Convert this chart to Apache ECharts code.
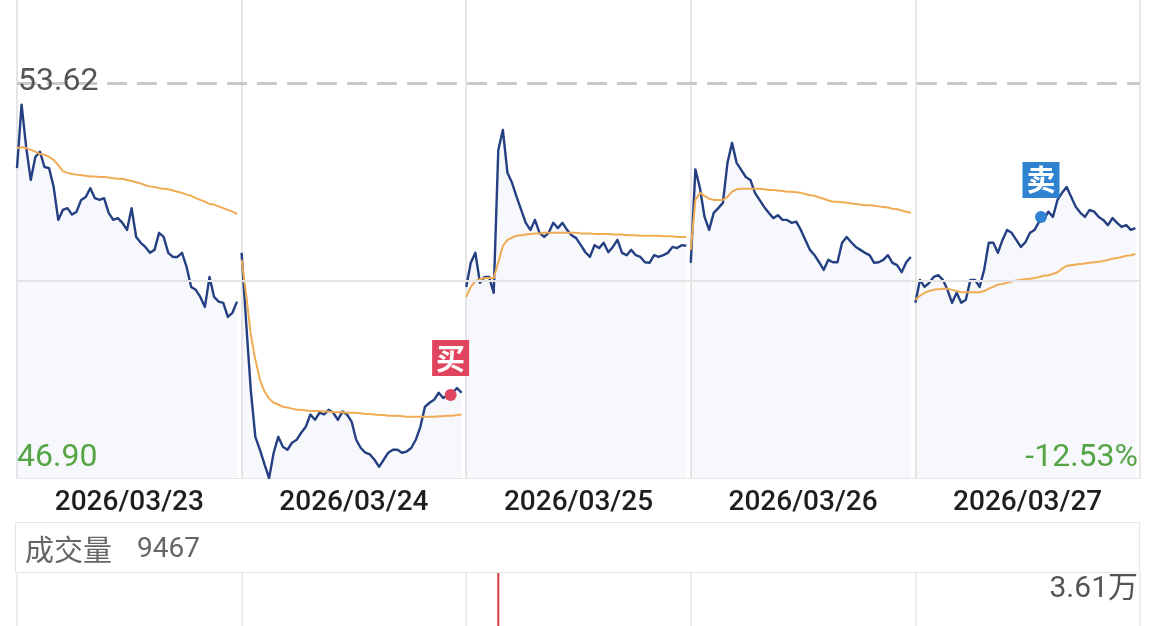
<!DOCTYPE html>
<html>
<head>
<meta charset="utf-8">
<script src="https://cdn.jsdelivr.net/npm/echarts@6/dist/echarts.min.js"></script>
<style>
html,body{margin:0;padding:0;background:#fff;}
#chart{width:1156px;height:626px;}
</style>
</head>
<body>
<div id="chart"></div>
<script>
// ---- data ----
const dates = ['2026/03/23', '2026/03/24', '2026/03/25', '2026/03/26', '2026/03/27'];
const sampleStep = 5;       // minutes between samples
const minutesPerDay = 245;  // trading minutes slot per day on the axis

const price0323 = [52.17,53.25,52.53,51.97,52.36,52.45,52.19,52.17,51.85,51.29,51.46,51.49,51.38,51.43,51.63,51.68,51.83,51.66,51.63,51.66,51.41,51.29,51.32,51.24,51.12,51.49,51.00,50.90,50.83,50.73,50.78,51.07,51.00,50.73,50.66,50.66,50.73,50.49,50.15,50.10,49.98,49.81,50.32,49.98,49.90,49.88,49.64,49.71,49.90];
const avg0323 = [52.51,52.53,52.51,52.48,52.45,52.41,52.40,52.36,52.31,52.22,52.12,52.09,52.07,52.06,52.05,52.04,52.03,52.03,52.02,52.02,52.01,52.00,51.99,51.99,51.97,51.95,51.93,51.91,51.88,51.86,51.85,51.83,51.82,51.81,51.79,51.77,51.75,51.72,51.70,51.66,51.63,51.60,51.56,51.55,51.52,51.49,51.46,51.43,51.39];

const price0324 = [50.73,49.54,48.40,47.60,47.38,47.13,46.90,47.33,47.60,47.43,47.38,47.50,47.55,47.67,47.77,47.98,47.89,48.01,47.98,48.06,48.01,47.89,48.03,47.98,47.86,47.55,47.41,47.33,47.30,47.21,47.09,47.21,47.33,47.38,47.38,47.33,47.35,47.41,47.55,47.77,48.11,48.18,48.23,48.35,48.26,48.31,48.35,48.43,48.35];
const avg0324 = [50.61,50.02,49.34,48.91,48.57,48.37,48.25,48.18,48.15,48.11,48.10,48.08,48.06,48.06,48.05,48.04,48.04,48.04,48.03,48.03,48.02,48.02,48.02,48.01,48.01,48.01,48.00,47.99,47.99,47.98,47.97,47.97,47.96,47.96,47.96,47.95,47.94,47.94,47.94,47.94,47.94,47.94,47.94,47.95,47.95,47.96,47.96,47.97,47.98];

const price0325 = [50.15,50.56,50.73,50.22,50.32,50.32,50.05,52.48,52.82,52.09,51.92,51.68,51.46,51.24,51.12,51.29,51.07,51.00,51.07,51.24,51.15,51.24,51.12,51.03,50.98,50.86,50.74,50.66,50.86,50.81,50.90,50.74,50.83,50.95,50.73,50.69,50.78,50.69,50.66,50.57,50.56,50.69,50.66,50.69,50.73,50.83,50.81,50.86,50.85];
const avg0325 = [49.98,50.15,50.25,50.28,50.30,50.30,50.30,50.57,50.85,50.95,50.99,51.02,51.03,51.04,51.05,51.06,51.06,51.07,51.07,51.07,51.07,51.07,51.07,51.07,51.07,51.06,51.06,51.06,51.05,51.05,51.05,51.05,51.04,51.04,51.04,51.03,51.03,51.03,51.02,51.02,51.02,51.02,51.02,51.01,51.01,51.01,51.00,51.00,51.00];

const price0326 = [50.56,52.15,51.83,51.34,51.12,51.41,51.49,51.58,52.26,52.60,52.26,52.14,52.02,51.97,51.75,51.63,51.51,51.41,51.32,51.37,51.29,51.29,51.24,51.26,51.12,50.95,50.78,50.69,50.57,50.44,50.61,50.57,50.57,50.90,51.00,50.91,50.83,50.78,50.73,50.69,50.56,50.57,50.61,50.69,50.56,50.52,50.40,50.57,50.66];
const avg0326 = [50.78,51.63,51.75,51.70,51.65,51.63,51.63,51.63,51.68,51.77,51.81,51.82,51.82,51.82,51.82,51.82,51.81,51.80,51.80,51.79,51.78,51.77,51.77,51.76,51.75,51.73,51.71,51.70,51.67,51.65,51.62,51.60,51.60,51.59,51.58,51.57,51.56,51.55,51.54,51.54,51.53,51.52,51.51,51.50,51.48,51.47,51.45,51.43,51.41];

const price0327 = [49.88,50.27,50.15,50.22,50.32,50.35,50.27,50.10,49.88,50.05,49.88,49.93,50.27,50.27,50.15,50.44,50.90,50.90,50.73,50.95,51.12,51.07,50.95,50.83,50.91,51.07,51.12,51.26,51.29,51.43,51.34,51.63,51.75,51.85,51.68,51.51,51.41,51.34,51.46,51.43,51.34,51.29,51.20,51.32,51.24,51.17,51.20,51.12,51.15];
const avg0327 = [49.93,50.00,50.05,50.08,50.10,50.11,50.12,50.12,50.10,50.08,50.06,50.06,50.06,50.06,50.06,50.08,50.12,50.15,50.19,50.20,50.22,50.24,50.26,50.27,50.28,50.29,50.30,50.32,50.34,50.35,50.37,50.40,50.46,50.51,50.52,50.53,50.54,50.55,50.56,50.57,50.58,50.59,50.61,50.63,50.64,50.66,50.68,50.69,50.71];

const dayPrices = [price0323, price0324, price0325, price0326, price0327];
const dayAvgs = [avg0323, avg0324, avg0325, avg0326, avg0327];

const highPrice = 53.62;
const lowPrice = 46.90;
const preClose = 50.26;
const axisMax = 55.03;
const rangePct = '-12.53%';

const tradeLabels = ['买', '卖'];
const tradeDays = [1, 4];
const tradeMinutes = [228, 137];
const tradePrices = [48.31, 51.34];
const tradeColors = ['#e0455d', '#2f82d0'];

const volumeLabel = '成交量';
const volumeCurrent = '9467';
const volumeMaxLabel = '3.61万';
const volumeMax = 36100;
const volDays = [2];
const volMinutes = [35];
const volValues = [36100];

// ---- build ----
const totalMinutes = minutesPerDay * dates.length;
const series = [];
dayPrices.forEach((arr, d) => {
  series.push({
    type: 'line', xAxisIndex: 0, yAxisIndex: 0, symbol: 'none', z: 3,
    data: arr.map((v, k) => [d * minutesPerDay + k * sampleStep, v]),
    lineStyle: { color: '#243f82', width: 2.4, join: 'round' },
    areaStyle: { color: 'rgba(214,223,240,0.3)', origin: 'start' },
    silent: true
  });
});
dayAvgs.forEach((arr, d) => {
  series.push({
    type: 'line', xAxisIndex: 0, yAxisIndex: 0, symbol: 'none', z: 4,
    data: arr.map((v, k) => [d * minutesPerDay + k * sampleStep, v]),
    lineStyle: { color: '#f0ab55', width: 2 },
    silent: true
  });
});
// reference lines
series.push({
  type: 'line', xAxisIndex: 0, yAxisIndex: 0, data: [], z: 2,
  markLine: {
    silent: true, symbol: 'none', label: { show: false },
    data: [
      { yAxis: highPrice, lineStyle: { color: '#c9c9c9', width: 3, type: [20, 10] } },
      { yAxis: preClose, lineStyle: { color: '#e4e4e4', width: 2, type: 'solid' } }
    ]
  }
});
// trade marks
tradeLabels.forEach((lab, i) => {
  series.push({
    type: 'scatter', xAxisIndex: 0, yAxisIndex: 0, z: 6,
    symbol: 'circle', symbolSize: 12,
    itemStyle: { color: tradeColors[i], opacity: 1 },
    data: [[tradeDays[i] * minutesPerDay + tradeMinutes[i], tradePrices[i]]],
    label: {
      show: true, position: 'top', distance: 13,
      formatter: lab,
      color: '#fff', fontSize: 29, lineHeight: 29, fontWeight: 'bold',
      fontFamily: '"Noto Sans CJK SC"',
      backgroundColor: tradeColors[i],
      padding: [4, 4, 3, 4]
    }
  });
});
// volume
series.push({
  type: 'bar', xAxisIndex: 2, yAxisIndex: 1, barWidth: 2,
  itemStyle: { color: '#d63b3f' },
  data: volValues.map((v, i) => [volDays[i] * minutesPerDay + volMinutes[i], v])
});

const chart = echarts.init(document.getElementById('chart'), null, { renderer: 'canvas' });
chart.setOption({
  animation: false,
  backgroundColor: '#fff',
  grid: [
    { left: 17, right: 16, top: 0, height: 478 },
    { left: 17, right: 16, top: 573, height: 133 }
  ],
  xAxis: [
    {
      type: 'value', gridIndex: 0, min: 0, max: totalMinutes, interval: minutesPerDay,
      axisLabel: { show: false }, axisTick: { show: false },
      axisLine: { show: true, lineStyle: { color: '#e6e6e6', width: 1 } },
      splitLine: { show: true, lineStyle: { color: '#e6e6e6', width: 2 } }
    },
    {
      type: 'category', gridIndex: 0, data: dates, boundaryGap: true, position: 'bottom',
      axisLine: { show: false }, axisTick: { show: false }, splitLine: { show: false },
      axisLabel: { color: '#1e1e1e', fontSize: 28, fontWeight: 500, fontFamily: 'Roboto', margin: 11 }
    },
    {
      type: 'value', gridIndex: 1, min: 0, max: totalMinutes, interval: minutesPerDay,
      axisLabel: { show: false }, axisTick: { show: false }, axisLine: { show: false },
      splitLine: { show: true, lineStyle: { color: '#ececec', width: 2 } }
    }
  ],
  yAxis: [
    {
      type: 'value', gridIndex: 0, min: lowPrice, max: axisMax,
      axisLabel: { show: false }, axisTick: { show: false }, axisLine: { show: false },
      splitLine: { show: false }
    },
    {
      type: 'value', gridIndex: 1, min: 0, max: volumeMax,
      axisLabel: { show: false }, axisTick: { show: false }, axisLine: { show: false },
      splitLine: { show: false }
    }
  ],
  series: series,
  graphic: [
    { type: 'text', z: 100, style: { x: 18, y: 82, text: highPrice.toFixed(2), fill: '#555', font: '32px Roboto', verticalAlign: 'middle' } },
    { type: 'text', z: 100, style: { x: 17, y: 458, text: lowPrice.toFixed(2), fill: '#55a545', font: '32px Roboto', verticalAlign: 'middle' } },
    { type: 'text', z: 100, style: { x: 1138, y: 458, text: rangePct, fill: '#55a545', font: '32px Roboto', align: 'right', verticalAlign: 'middle' } },
    { type: 'rect', z: 50, shape: { x: 15.5, y: 522.5, width: 1124, height: 50 }, style: { fill: '#fff', stroke: '#e6e6e6', lineWidth: 1 } },
    { type: 'text', z: 100, style: { x: 25, y: 550, text: volumeLabel, fill: '#666', font: '29px "Noto Sans CJK SC"', verticalAlign: 'middle' } },
    { type: 'text', z: 100, style: { x: 137, y: 550, text: volumeCurrent, fill: '#666', font: '28px Roboto', verticalAlign: 'middle' } },
    { type: 'text', z: 100, style: { x: 1138, y: 589, text: volumeMaxLabel, fill: '#555', font: '30px Roboto, "Noto Sans CJK SC"', align: 'right', verticalAlign: 'middle' } }
  ]
});
</script>
</body>
</html>
